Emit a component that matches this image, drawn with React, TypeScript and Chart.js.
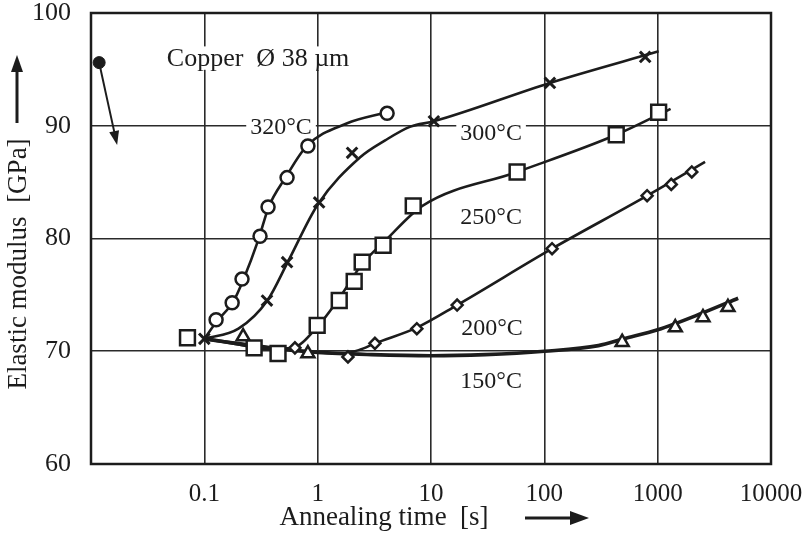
import React, { useEffect, useRef } from "react";
import { Chart, registerables } from "chart.js";
Chart.register(...registerables);

const FONT = "'Liberation Serif', 'Times New Roman', serif";
const INK = "#1c1c1c";

const xTicks = [0.01, 0.1, 1, 10, 100, 1000, 10000];
const xTickLabels = ["", "0.1", "1", "10", "100", "1000", "10000"];
const yTicks = [60, 70, 80, 90, 100];

// measured points (annealing time s, elastic modulus GPa)
const t320 = [0.127, 0.176, 0.215, 0.31, 0.365, 0.537, 0.82, 4.1];
const e320 = [72.8, 74.3, 76.4, 80.2, 82.8, 85.4, 88.2, 91.1];
const t300 = [0.1, 0.357, 0.537, 1.03, 2.01, 10.6, 112, 776];
const e300 = [71.1, 74.5, 77.9, 83.2, 87.6, 90.4, 93.8, 96.1];
const t250 = [0.071, 0.275, 0.447, 0.99, 1.55, 2.1, 2.47, 3.78, 6.97, 57.5, 431, 1020];
const e250 = [71.2, 70.3, 69.8, 72.3, 74.5, 76.2, 77.9, 79.4, 82.9, 85.9, 89.2, 91.2];
const t200 = [0.63, 1.85, 3.2, 7.5, 17, 117, 807, 1318, 2000];
const e200 = [70.3, 69.5, 70.7, 72.0, 74.1, 79.1, 83.8, 84.8, 85.9];
const t150 = [0.22, 0.82, 486, 1430, 2510, 4170];
const e150 = [71.3, 69.8, 70.8, 72.1, 73.0, 73.9];

// fitted curves
const c320t = [0.1, 0.13, 0.18, 0.22, 0.3, 0.37, 0.52, 0.8, 1.8, 4.1];
const c320e = [71.1, 72.7, 74.4, 76.3, 79.9, 82.8, 85.4, 88.2, 90.2, 91.2];
const c300t = [0.1, 0.2, 0.36, 0.55, 1, 2.37, 3.94, 6.5, 10.6, 112, 1020];
const c300e = [71.1, 72.0, 74.5, 78.0, 83.0, 87.2, 88.7, 89.9, 90.4, 93.8, 96.6];
const c250t = [0.1, 0.2, 0.35, 0.6, 1, 1.5, 2.5, 3.94, 8.4, 57.5, 431, 1300];
const c250e = [71.1, 70.6, 70.2, 70.3, 72.2, 74.5, 77.8, 79.8, 82.9, 85.9, 89.2, 91.5];
const c200t = [0.1, 0.3, 0.6, 1, 1.6, 2.3, 3.2, 7.5, 17, 117, 810, 2620];
const c200e = [71.1, 70.5, 70.1, 69.9, 69.8, 70.1, 70.7, 72.1, 74.1, 79.1, 83.8, 86.8];
const c150t = [0.1, 0.3, 1, 3, 10, 30, 100, 300, 500, 1000, 2500, 5130];
const c150e = [71.1, 70.4, 69.9, 69.7, 69.6, 69.7, 70.0, 70.5, 71.1, 71.9, 73.4, 74.7];

// initial value marker and its arrow
const dotT = [0.0118];
const dotE = [95.6];
const arrowT = [0.0118, 0.017];
const arrowE = [95.6, 88.3];

// annotations
const noteTexts = ["Copper  Ø 38 µm", "320°C", "300°C", "250°C", "200°C", "150°C"];
const noteT = [0.298, 0.475, 33.9, 33.9, 34.5, 33.9];
const noteE = [96.0, 89.9, 89.4, 81.9, 72.1, 67.4];

const yTitle = "Elastic modulus  [GPa]";
const xTitle = "Annealing time  [s]";

const pts = (t: number[], e: number[]) => t.map((v, i) => ({ x: v, y: e[i] }));

const overlay = {
  id: "overlay",
  beforeDraw(chart: any) {
    const { ctx, width, height } = chart;
    ctx.save();
    ctx.fillStyle = "#fff";
    ctx.fillRect(0, 0, width, height);
    ctx.restore();
  },
  beforeDatasetsDraw(chart: any) {
    const { ctx, scales } = chart;
    ctx.save();
    noteTexts.forEach((txt, i) => {
      const size = i === 0 ? 26 : 24;
      ctx.font = `${size}px ${FONT}`;
      const x = scales.x.getPixelForValue(noteT[i]);
      const y = scales.y.getPixelForValue(noteE[i]);
      const w = ctx.measureText(txt).width;
      ctx.fillStyle = "#fff";
      ctx.fillRect(x - w / 2 - 4, y - size * 0.45, w + 8, size * 0.9);
      ctx.fillStyle = INK;
      ctx.textAlign = "center";
      ctx.textBaseline = "middle";
      ctx.fillText(txt, x, y + 1);
    });
    ctx.restore();
  },
  afterDatasetsDraw(chart: any) {
    const { ctx, scales, chartArea } = chart;
    ctx.save();
    // arrow from the initial value dot
    const x0 = scales.x.getPixelForValue(arrowT[0]);
    const y0 = scales.y.getPixelForValue(arrowE[0]);
    const x1 = scales.x.getPixelForValue(arrowT[1]);
    const y1 = scales.y.getPixelForValue(arrowE[1]);
    const ang = Math.atan2(y1 - y0, x1 - x0);
    ctx.strokeStyle = INK;
    ctx.fillStyle = INK;
    ctx.lineWidth = 2;
    ctx.beginPath();
    ctx.moveTo(x0, y0);
    ctx.lineTo(x1 - Math.cos(ang) * 8, y1 - Math.sin(ang) * 8);
    ctx.stroke();
    ctx.beginPath();
    ctx.moveTo(x1, y1);
    ctx.lineTo(x1 - Math.cos(ang) * 14 + Math.sin(ang) * 5, y1 - Math.sin(ang) * 14 - Math.cos(ang) * 5);
    ctx.lineTo(x1 - Math.cos(ang) * 14 - Math.sin(ang) * 5, y1 - Math.sin(ang) * 14 + Math.cos(ang) * 5);
    ctx.closePath();
    ctx.fill();

    // frame
    ctx.lineWidth = 2.5;
    ctx.strokeRect(chartArea.left, chartArea.top, chartArea.right - chartArea.left, chartArea.bottom - chartArea.top);

    // y title with arrow
    ctx.font = `27px ${FONT}`;
    ctx.fillStyle = INK;
    ctx.save();
    ctx.translate(19, 264);
    ctx.rotate(-Math.PI / 2);
    ctx.textAlign = "center";
    ctx.textBaseline = "middle";
    ctx.fillText(yTitle, 0, 0);
    ctx.restore();
    ctx.lineWidth = 3;
    ctx.beginPath();
    ctx.moveTo(17, 123);
    ctx.lineTo(17, 70);
    ctx.stroke();
    ctx.beginPath();
    ctx.moveTo(17, 55);
    ctx.lineTo(11, 72);
    ctx.lineTo(23, 72);
    ctx.closePath();
    ctx.fill();

    // x title with arrow
    ctx.textAlign = "center";
    ctx.textBaseline = "middle";
    ctx.fillText(xTitle, 384, 518);
    ctx.beginPath();
    ctx.moveTo(525, 518);
    ctx.lineTo(572, 518);
    ctx.stroke();
    ctx.beginPath();
    ctx.moveTo(589, 518);
    ctx.lineTo(570, 511);
    ctx.lineTo(570, 525);
    ctx.closePath();
    ctx.fill();
    ctx.restore();
  },
};

const marker = (t: number[], e: number[], style: string, r: number, bw = 2.5) => ({
  data: pts(t, e),
  showLine: false,
  pointStyle: style,
  pointRadius: r,
  pointBackgroundColor: "#fff",
  pointBorderColor: INK,
  pointBorderWidth: bw,
  order: 0,
});

const curve = (t: number[], e: number[], w = 2.6) => ({
  data: pts(t, e),
  borderColor: INK,
  borderWidth: w,
  pointRadius: 0,
  cubicInterpolationMode: "monotone",
  fill: false,
  order: 1,
});

export default function App() {
  const ref = useRef<HTMLCanvasElement | null>(null);
  useEffect(() => {
    document.body.style.margin = "0";
    const chart = new Chart(ref.current as HTMLCanvasElement, {
      type: "line",
      data: {
        datasets: [
          marker(t320, e320, "circle", 6.5),
          marker(t300, e300, "crossRot", 7.5, 3),
          marker(t250, e250, "rect", 10.5),
          marker(t200, e200, "rectRot", 5.5),
          marker(t150, e150, "triangle", 7.5),
          {
            data: pts(dotT, dotE),
            showLine: false,
            pointStyle: "circle",
            pointRadius: 6,
            pointBackgroundColor: INK,
            pointBorderColor: INK,
            clip: false,
            order: 0,
          },
          curve(c320t, c320e),
          curve(c300t, c300e),
          curve(c250t, c250e),
          curve(c200t, c200e),
          curve(c150t, c150e, 3.6),
        ] as any,
      },
      options: {
        responsive: false,
        animation: false,
        layout: { padding: { top: 13, right: 38, left: 0, bottom: 0 } },
        plugins: { legend: { display: false }, tooltip: { enabled: false } },
        scales: {
          x: {
            type: "logarithmic",
            min: 0.01,
            max: 10000,
            afterBuildTicks: (s: any) => {
              s.ticks = xTicks.map((v) => ({ value: v }));
            },
            afterFit: (s: any) => {
              s.height = 75;
              s.paddingLeft = 0;
              s.paddingRight = 0;
            },
            ticks: {
              callback: (v: any) => xTickLabels[xTicks.indexOf(Number(v))] ?? "",
              font: { family: FONT, size: 25 },
              color: INK,
              padding: 15,
              maxRotation: 0,
              autoSkip: false,
            },
            grid: { color: "#2a2a2a", lineWidth: 1.6, drawTicks: false },
            border: { display: false },
          },
          y: {
            min: 60,
            max: 100,
            afterBuildTicks: (s: any) => {
              s.ticks = yTicks.map((v) => ({ value: v }));
            },
            afterFit: (s: any) => {
              s.width = 91;
              s.paddingTop = 0;
              s.paddingBottom = 0;
            },
            ticks: {
              font: { family: FONT, size: 26 },
              color: INK,
              padding: 20,
            },
            grid: { color: "#2a2a2a", lineWidth: 1.6, drawTicks: false },
            border: { display: false },
          },
        },
      } as any,
      plugins: [overlay],
    });
    return () => chart.destroy();
  }, []);
  return <canvas ref={ref} width={809} height={539} style={{ display: "block" }} />;
}
